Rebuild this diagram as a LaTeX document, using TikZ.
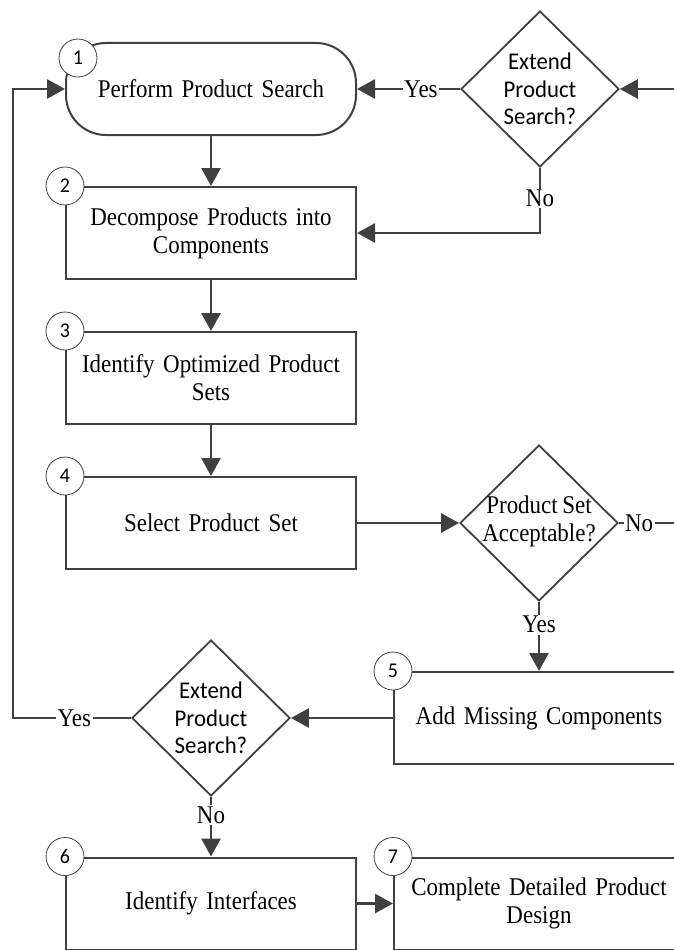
\documentclass[tikz,border=0pt]{standalone}
\usepackage{fontspec}
\setmainfont{Liberation Serif}[FakeStretch=0.9,WordSpace=0.8]
\newfontfamily\calfont{Carlito}[FakeStretch=0.95]
\usetikzlibrary{arrows.meta,shapes.geometric}
\definecolor{ln}{HTML}{404040}
\tikzset{
  boxstyle/.style={draw=ln, line width=2pt, fill=white, minimum width=290pt, minimum height=92pt,
    inner sep=0pt, text width=280pt, align=center, font=\fontsize{25.5}{28}\selectfont},
  diastyle/.style={draw=ln, line width=1.8pt, diamond, minimum width=158pt, minimum height=156pt,
    inner sep=0pt, fill=white},
  diaserif/.style={align=center, inner sep=0pt, font=\fontsize{25.5}{28}\selectfont},
  diasans/.style={align=center, inner sep=0pt, font=\calfont\fontsize{24}{27.5}\selectfont},
  numstyle/.style={circle, draw=ln, line width=0.8pt, fill=white, minimum size=38pt, inner sep=0pt,
    font=\calfont\fontsize{21}{21}\selectfont},
  arr/.style={draw=ln, line width=2.8pt, -{Triangle[length=18pt,width=19pt]}},
  con/.style={draw=ln, line width=2.8pt},
  lbl/.style={fill=white, inner sep=1.5pt, font=\fontsize{25.5}{28}\selectfont},
}
\begin{document}
\begin{tikzpicture}[x=1pt,y=-1pt]
\useasboundingbox (0,0) rectangle (674,950);
\clip (0,0) rectangle (674,950);

% boxes
\node[boxstyle, rounded corners=40pt] (b1) at (211,89) {Perform Product Search};
\node[boxstyle] (b2) at (211,233) {Decompose Products into\\Components};
\node[boxstyle] (b3) at (211,378) {Identify Optimized Product\\Sets};
\node[boxstyle] (b4) at (211,523) {Select Product Set};
\node[boxstyle] (b5) at (539,718) {Add Missing Components};
\node[boxstyle] (b6) at (211,903.5) {Identify Interfaces};
\node[boxstyle] (b7) at (539,903.5) {Complete Detailed Product\\Design};

% diamonds
\node[diastyle] (d1) at (540,89) {};
\node[diasans] (d1t) at (d1) {Extend\\Product\\Search?};
\node[diastyle] (d2) at (539,523) {};
\node[diaserif] (d2t) at (539,521) {Product Set\\Acceptable?};
\node[diastyle] (d3) at (211,718) {};
\node[diasans] (d3t) at (d3) {Extend\\Product\\Search?};

% free ends
\coordinate (r1) at (680,89);
\coordinate (r2) at (680,523);
\coordinate (lc) at (13,718);

% connectors
\draw[arr] (r1) -- (d1.east);
\draw[arr] (d1.west) -- node[lbl, pos=0.38] (y1) {Yes} (b1.east);
\draw[arr] (d1.south) |- node[lbl, pos=0.235] (n1) {No} (b2.east);
\draw[arr] (b1.south) -- (b2.north);
\draw[arr] (b2.south) -- (b3.north);
\draw[arr] (b3.south) -- (b4.north);
\draw[arr] (b4.east) -- (d2.west);
\draw[con] (d2.east) -- node[lbl, pos=0.33] (n2) {No} (r2);
\draw[arr] (d2.south) -- node[lbl, pos=0.33] (y2) {Yes} (b5.north);
\draw[arr] (b5.west) -- (d3.east);
\draw[arr] (d3.west) -- node[lbl, pos=0.48] (y3) {Yes} (lc) |- (b1.west);
\draw[arr] (d3.south) -- node[lbl, pos=0.3] (n3) {No} (b6.north);
\draw[arr] (b6.east) -- (b7.west);

% numbers
\node[numstyle] (c1) at (78,58) {1};
\node[numstyle] (c2) at (b2.north west) {2};
\node[numstyle] (c3) at (b3.north west) {3};
\node[numstyle] (c4) at (b4.north west) {4};
\node[numstyle] (c5) at (b5.north west) {5};
\node[numstyle] (c6) at (b6.north west) {6};
\node[numstyle] (c7) at (b7.north west) {7};
\end{tikzpicture}
\end{document}
